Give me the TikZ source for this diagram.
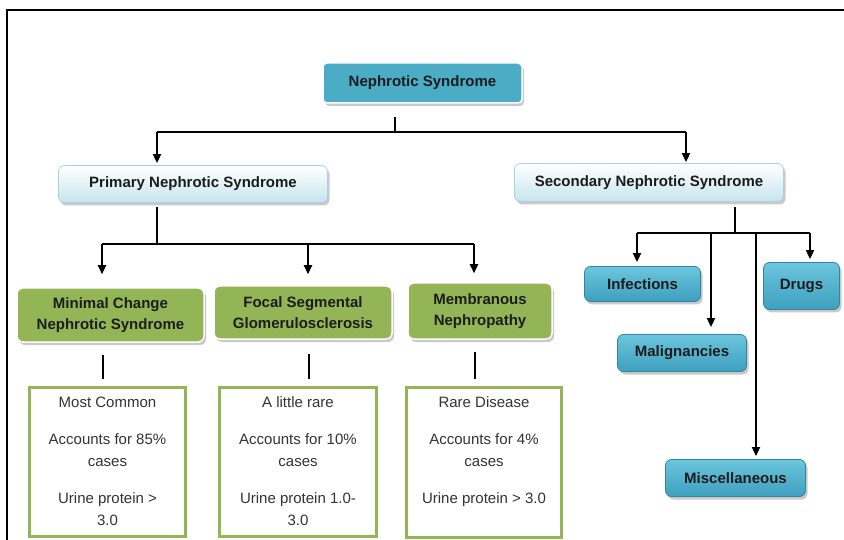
\documentclass[tikz,border=0pt]{standalone}
\usepackage{fontspec}
\setmainfont{Liberation Sans}
\usetikzlibrary{arrows.meta,shadows}
\definecolor{ctop}{HTML}{4BACC6}
\definecolor{clight}{HTML}{C7E5EE}
\definecolor{cledge}{HTML}{A9D3E0}
\definecolor{cgreen}{HTML}{93B556}
\definecolor{cblueA}{HTML}{6CC6DD}
\definecolor{cblueB}{HTML}{3E9FBF}
\definecolor{cblueC}{HTML}{2F86A3}
\definecolor{ctext}{HTML}{1C1C1C}
\definecolor{cbody}{HTML}{333333}
\begin{document}
\begin{tikzpicture}[x=1pt,y=-1pt,
  lbl/.style={font=\fontsize{15}{21}\selectfont\bfseries, text=ctext, align=center, inner sep=0pt},
  shad/.style={drop shadow={shadow xshift=2pt,shadow yshift=-3pt,opacity=0.35,fill=black!60}},
  topbox/.style={lbl, shad, rounded corners=4pt, fill=ctop, draw=white, line width=1.5pt},
  lightbox/.style={lbl, shad, rounded corners=6pt, top color=white, bottom color=clight, draw=cledge, line width=0.8pt},
  greenbox/.style={lbl, shad, rounded corners=6pt, fill=cgreen, draw=white, line width=1.5pt},
  bluebox/.style={lbl, shad, rounded corners=6pt, top color=cblueA, bottom color=cblueB, draw=cblueC, line width=0.8pt},
  infobox/.style={draw=cgreen, line width=3pt, fill=white, inner sep=0pt},
  info/.style={font=\fontsize{15}{22}\selectfont, text=cbody, align=center, inner sep=0pt, anchor=north},
  conn/.style={line width=1.8pt},
  arr/.style={conn, -{Triangle[length=9pt,width=8pt]}}
]
\useasboundingbox (0,0) rectangle (844,540);
\fill[white] (0,0) rectangle (844,540);
% frame
\coordinate (fb) at (7,541);
\coordinate (fc) at (7,10);
\coordinate (fr) at (845,10);
\draw[line width=1.6pt] (fb) -- (fc) -- (fr);

% top level
\node[topbox, minimum width=199pt, minimum height=40pt] (neph) at (422.5,83) {Nephrotic Syndrome};
\node[lightbox, minimum width=269pt, minimum height=37pt] (prim) at (193,184) {Primary Nephrotic Syndrome};
\node[lightbox, minimum width=269pt, minimum height=38pt] (sec) at (649,182.5) {Secondary Nephrotic Syndrome};

% primary children
\node[greenbox, minimum width=187pt, minimum height=54pt] (mcns) at (110.5,315) {Minimal Change\\Nephrotic Syndrome};
\node[greenbox, minimum width=178pt, minimum height=53pt] (fsgs) at (303,312.5) {Focal Segmental\\Glomerulosclerosis};
\node[greenbox, minimum width=144pt, minimum height=56pt] (memb) at (480,311) {Membranous\\Nephropathy};

% info boxes
\node[infobox, minimum width=156pt, minimum height=149pt] (i1) at (107.5,461.5) {};
\node[infobox, minimum width=157pt, minimum height=149pt] (i2) at (298,461.5) {};
\node[infobox, minimum width=155pt, minimum height=150pt] (i3) at (484,462) {};
\node[info] (t1) at ([yshift=-11pt]i1.north) {Most Common\\[15pt]Accounts for 85\%\\cases\\[15pt]Urine protein >\\3.0};
\node[info] (t2) at ([yshift=-11pt]i2.north) {A little rare\\[15pt]Accounts for 10\%\\cases\\[15pt]Urine protein 1.0-\\3.0};
\node[info] (t3) at ([yshift=-11pt]i3.north) {Rare Disease\\[15pt]Accounts for 4\%\\cases\\[15pt]Urine protein > 3.0};

% secondary children
\node[bluebox, minimum width=116pt, minimum height=35pt] (inf) at (642.5,284) {Infections};
\node[bluebox, minimum width=76pt, minimum height=47pt] (drug) at (801.5,286) {Drugs};
\node[bluebox, minimum width=129pt, minimum height=37pt] (mal) at (682,353) {Malignancies};
\node[bluebox, minimum width=140pt, minimum height=37pt] (misc) at (735.5,478) {Miscellaneous};

% connectors: top
\coordinate (s0) at (395,117);
\coordinate (hL) at (157,132);
\coordinate (hR) at (686,132);
\draw[conn] (s0) -- (s0 |- hL);
\draw[conn] (hL) -- (hR);
\draw[arr, shorten >=2pt] (hL) -- (hL |- prim.north);
\draw[arr, shorten >=1pt] (hR) -- (hR |- sec.north);

% primary branch
\coordinate (p0) at (157,244);
\coordinate (pa) at (102,244);
\coordinate (pb) at (308,244);
\coordinate (pc) at (474,244);
\draw[conn, shorten <=4pt] (p0 |- prim.south) -- (p0);
\draw[conn] (pa) -- (pc);
\draw[arr, shorten >=13pt] (pa) -- (pa |- mcns.north);
\draw[arr, shorten >=11pt] (pb) -- (pb |- fsgs.north);
\draw[arr, shorten >=9pt] (pc) -- (pc |- memb.north);

% stems to info boxes
\coordinate (qa) at (103,0);
\coordinate (qb) at (309,0);
\coordinate (qc) at (475,0);
\draw[conn, shorten <=12pt, shorten >=7pt] (qa |- mcns.south) -- (qa |- i1.north);
\draw[conn, shorten <=14pt, shorten >=7pt] (qb |- fsgs.south) -- (qb |- i2.north);
\draw[conn, shorten <=12pt, shorten >=7pt] (qc |- memb.south) -- (qc |- i3.north);

% secondary branch
\coordinate (r0) at (735,233);
\coordinate (ra) at (637,233);
\coordinate (rb) at (711,233);
\coordinate (rc) at (756,233);
\coordinate (rd) at (810,233);
\draw[conn, shorten <=5pt] (r0 |- sec.south) -- (r0);
\draw[conn] (ra) -- (rd);
\draw[arr, shorten >=4pt] (ra) -- (ra |- inf.north);
\draw[arr, shorten >=3pt] (rd) -- (rd |- drug.north);
\draw[arr, shorten >=7pt] (rb) -- (rb |- mal.north);
\draw[arr, shorten >=3pt] (rc) -- (rc |- misc.north);
\end{tikzpicture}
\end{document}
